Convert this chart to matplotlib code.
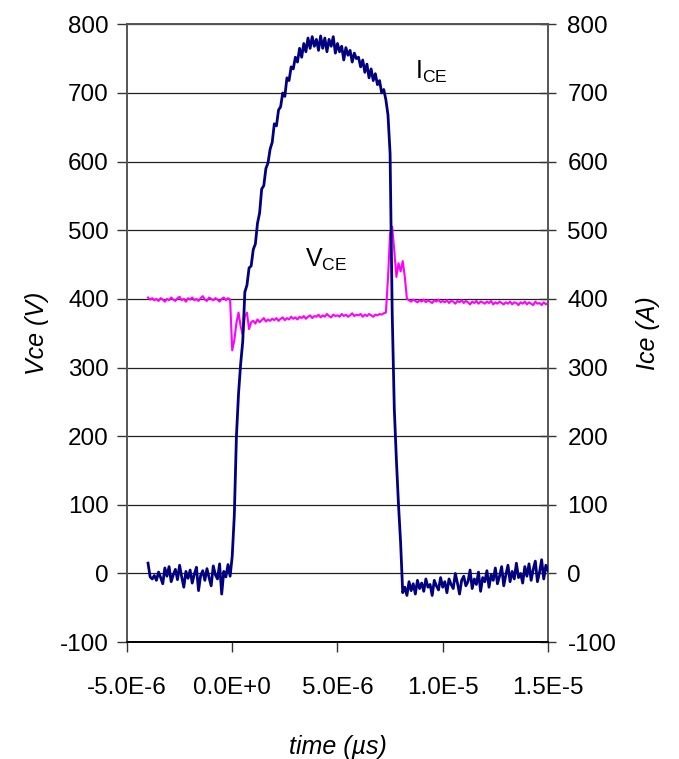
#!/usr/bin/env python3

import matplotlib
matplotlib.use('Agg')
import matplotlib.pyplot as plt
import numpy as np
from matplotlib.ticker import FuncFormatter, MultipleLocator

# scope samples, 0.1 us apart, starting at -4.0 us
t_start_us = -4.0
t_step_us = 0.1

# collector-emitter current (A)
ice = [
    15, -5, -8, -3, -10, 2, -6, -15, 8, -4, 10, -12, -2, 6, -9, 12, -5, -20, 3, -7,
    5, -14, -1, 9, -25, -3, 4, -10, 7, -6, -18, 11, -2, -8, 14, -30, 3, -5, 13, -4,
    25, 85, 200, 262, 305, 338, 410, 420, 445, 448,
    472, 480, 510, 525, 560, 565, 590, 598, 618, 628,
    655, 652, 675, 680, 700, 695, 722, 718, 738, 735,
    752, 745, 765, 752, 772, 760, 780, 765, 782, 768,
    778, 762, 783, 765, 780, 760, 778, 768, 782, 758,
    772, 760, 768, 748, 766, 755, 762, 745, 758, 750,
    752, 738, 748, 730, 742, 722, 735, 718, 728, 712,
    718, 700, 705, 690, 668, 612, 380, 240, 165, 100,
    45, -28, -20, -32, -12, -25, -15, -30, -10, -22,
    -14, -26, -8, -20, -16, -32, -10, -18, -24, -6,
    -20, -12, -28, -8, -16, -22, 0, -14, -30, -10,
    -4, -18, -12, 5, -22, -8, -16, 2, -26, -6,
    -12, 4, -20, -2, -10, 8, -15, -4, 10, -18,
    -2, 12, -12, 3, -8, 15, -6, 0, -14, 10,
    -4, 14, -10, 6, 18, -12, 2, 20, -8, 12,
    4,
]

# collector-emitter voltage (V)
vce = [
    402, 399, 401, 398, 400, 397, 401, 399, 396, 400, 398, 402, 399, 397, 401, 403, 398, 400, 396, 401,
    399, 402, 398, 400, 397, 401, 404, 399, 397, 402, 400, 398, 401, 399, 396, 400, 402, 398, 401, 399,
    325, 340, 365, 380, 360, 348, 375, 380, 356, 366,
    368, 364, 370, 366, 369, 372, 367, 370, 368, 371,
    369, 372, 368, 371, 373, 369, 372, 370, 374, 371,
    373, 370, 374, 372, 375, 371, 374, 376, 372, 375,
    374, 377, 373, 376, 374, 378, 375, 373, 377, 375,
    376, 374, 378, 375, 377, 374, 376, 379, 375, 377,
    376, 378, 374, 377, 375, 378, 376, 374, 377, 376,
    378, 377, 379, 380, 430, 495, 505, 470, 432, 452,
    440, 455, 432, 400, 398, 396, 399, 397, 395, 398,
    396, 399, 395, 398, 396, 394, 398, 396, 399, 395,
    397, 395, 398, 394, 397, 396, 393, 397, 395, 398,
    394, 397, 395, 392, 396, 394, 397, 393, 396, 395,
    393, 396, 394, 397, 392, 395, 393, 396, 394, 392,
    395, 393, 396, 392, 395, 394, 391, 395, 393, 396,
    392, 395, 393, 391, 396, 393, 394, 391, 395, 392,
    394,
]

x_ticks = [-5e-6, 0.0, 5e-6, 1e-5, 1.5e-5]

t = (t_start_us + t_step_us * np.arange(len(ice))) * 1e-6

plt.rcParams['font.family'] = ['Liberation Sans', 'DejaVu Sans']
plt.rcParams['axes.unicode_minus'] = False

fig = plt.figure(figsize=(6.79, 7.59), dpi=100)
ax = fig.add_axes([0.187, 0.154, 0.62, 0.814])
ax2 = ax.twinx()
ax2.set_position(ax.get_position())


def sci_label(v, pos):
    s = f'{v:.1E}'
    mant, exp = s.split('E')
    return f'{mant}E{int(exp):+d}'


for a in (ax, ax2):
    a.set_xlim(-5e-6, 1.5e-5)
    a.set_ylim(-100, 800)
    a.yaxis.set_major_locator(MultipleLocator(100))
    for sp in a.spines.values():
        sp.set_color('#555555')
        sp.set_linewidth(1.2)
    a.spines['bottom'].set_color('black')

ax.yaxis.grid(True, color='#222222', linewidth=0.9)
ax.set_axisbelow(True)
ax.set_xticks(x_ticks)
ax.xaxis.set_major_formatter(FuncFormatter(sci_label))
ax.tick_params(axis='both', labelsize=17.5, direction='out', length=7, width=1, color='#333333')
ax.tick_params(axis='x', pad=18)
ax.tick_params(axis='y', pad=6)
ax2.tick_params(axis='y', labelsize=17.5, direction='inout', length=12, width=1, color='#333333', pad=8)

ax.plot(t, vce, color='#ff00ff', linewidth=1.5, zorder=3)
ax2.plot(t, ice, color='#000080', linewidth=2.0, zorder=3)

ax.set_ylabel('Vce (V)', fontsize=18, style='italic', labelpad=8)
ax2.set_ylabel('Ice (A)', fontsize=18, style='italic', labelpad=14)
ax.set_xlabel('time (\u00b5s)', fontsize=18, style='italic', labelpad=26)

ax.text(8.7e-6, 720, r'$\mathregular{I_{CE}}$', fontsize=18, ha='left', va='baseline')
ax.text(3.45e-6, 447, r'$\mathregular{V_{CE}}$', fontsize=18, ha='left', va='baseline')

plt.savefig('out.png', dpi=100)
plt.close()
